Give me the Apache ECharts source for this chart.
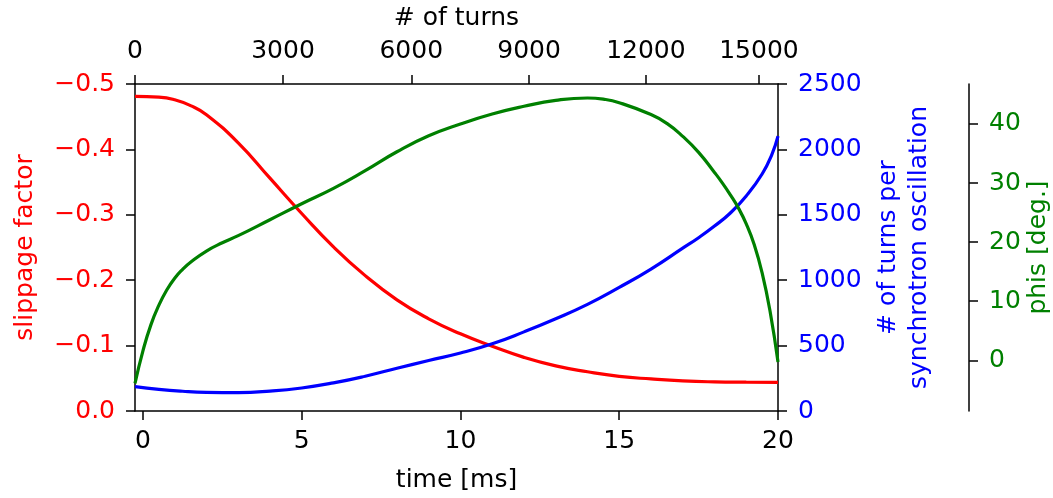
<!DOCTYPE html>
<html>
<head>
<meta charset="utf-8">
<script src="https://cdn.jsdelivr.net/npm/echarts@6/dist/echarts.min.js"></script>
<style>
  html, body { margin: 0; padding: 0; background: #fff; }
  #chart { width: 1053px; height: 498px; }
</style>
</head>
<body>
<div id="chart"></div>
<script>
// slippage factor (left axis, red)
const slipTime = [-0.25, 0.5, 1, 1.5, 2, 3, 4, 5, 6, 7, 8, 9, 10, 11, 12, 13, 14, 15, 16, 17, 18, 19, 20];
const slipValue = [-0.481, -0.480, -0.476, -0.467, -0.453, -0.410, -0.356, -0.302, -0.251, -0.207, -0.170, -0.141,
    -0.118, -0.099, -0.082, -0.069, -0.060, -0.053, -0.049, -0.046, -0.0445, -0.0440, -0.0438];

// # of turns per synchrotron oscillation (right axis, blue)
const syncTime = [-0.25, 0.5, 1.25, 2, 3, 4, 5, 6, 7, 8, 9, 10, 11, 12, 13, 14, 15, 16, 17, 17.5, 18, 18.5, 19, 19.5, 19.8, 20];
const syncValue = [186, 165, 151, 143, 141, 152, 176, 215, 266, 327, 386, 443, 514, 605, 705, 815, 945, 1085,
    1245, 1325, 1414, 1514, 1644, 1812, 1957, 2102];

// phis [deg.] (outer right axis, green)
const phisTime = [-0.25, 0, 0.25, 0.5, 0.75, 1, 1.25, 1.5, 2, 2.5, 3, 4, 5, 6, 7, 8, 9, 10, 11, 12, 13, 14, 14.5,
    15, 16, 16.5, 17, 17.5, 18, 18.25, 18.5, 18.75, 19, 19.25, 19.5, 19.75, 20];
const phisValue = [-3.9, 1.6, 6.0, 9.3, 11.9, 13.9, 15.4, 16.6, 18.5, 19.9, 21.1, 23.8, 26.5, 29.1, 32.1, 35.3,
    38.0, 40.0, 41.7, 43.0, 44.0, 44.4, 44.2, 43.6, 41.6, 40.1, 37.9, 35.2, 31.8, 30.0, 28.0, 25.8, 23.1, 19.6,
    14.8, 8.3, -0.3];

// tick labels
const timeTicks = [0, 5, 10, 15, 20];
const turnTicks = [0, 3000, 6000, 9000, 12000, 15000];
const turnTickTimes = [-0.25, 4.41, 8.45, 12.16, 15.84, 19.40];
const phisTicks = [0, 10, 20, 30, 40];

const zip = (a, b) => a.map((x, i) => [x, b[i]]);

const FONT = 'DejaVu Sans';
const FS = 25;

const baseAxis = {
    axisLine: { show: true, onZero: false, lineStyle: { color: '#000', width: 1.5 } },
    axisTick: { show: true, length: 9, lineStyle: { color: '#000', width: 1.5 } },
    splitLine: { show: false },
    nameTextStyle: { fontFamily: FONT, fontSize: FS, color: '#000' }
};

const chart = echarts.init(document.getElementById('chart'));
chart.setOption({
    backgroundColor: '#fff',
    animation: false,
    grid: { left: 135, right: 275, top: 84, bottom: 87, containLabel: false, outerBoundsMode: 'none' },
    xAxis: [{
        ...baseAxis,
        type: 'value',
        position: 'bottom',
        min: -0.25,
        max: 20,
        name: 'time [ms]',
        nameLocation: 'middle',
        nameGap: 57,
        axisTick: { ...baseAxis.axisTick, customValues: timeTicks },
        axisLabel: {
            customValues: timeTicks, margin: 18,
            fontFamily: FONT, fontSize: FS, color: '#000'
        }
    }, {
        ...baseAxis,
        type: 'value',
        position: 'top',
        min: -0.25,
        max: 20,
        name: '# of turns',
        nameLocation: 'middle',
        nameGap: 53,
        axisTick: { ...baseAxis.axisTick, customValues: turnTickTimes },
        axisLabel: {
            customValues: turnTickTimes, margin: 20,
            fontFamily: FONT, fontSize: FS, color: '#000',
            formatter: v => {
                const i = turnTickTimes.findIndex(t => Math.abs(t - v) < 1e-6);
                return i >= 0 ? String(turnTicks[i]) : '';
            }
        }
    }],
    yAxis: [{
        ...baseAxis,
        type: 'value',
        position: 'left',
        inverse: true,
        min: -0.5,
        max: 0,
        interval: 0.1,
        name: 'slippage factor',
        nameLocation: 'middle',
        nameRotate: 90,
        nameGap: 97,
        nameTextStyle: { fontFamily: FONT, fontSize: FS, color: '#ff0000' },
        axisLabel: {
            margin: 20, fontFamily: FONT, fontSize: FS, color: '#ff0000',
            formatter: v => Math.abs(v) < 1e-9 ? '0.0' : v.toFixed(1).replace('-', '\u2212')
        }
    }, {
        ...baseAxis,
        type: 'value',
        position: 'right',
        min: 0,
        max: 2500,
        interval: 500,
        name: '# of turns per\nsynchrotron oscillation',
        nameLocation: 'middle',
        nameRotate: 90,
        nameGap: 89,
        nameTextStyle: { fontFamily: FONT, fontSize: FS, color: '#0000ff', lineHeight: 31 },
        axisLabel: {
            margin: 20, fontFamily: FONT, fontSize: FS, color: '#0000ff',
            formatter: v => String(v)
        }
    }, {
        ...baseAxis,
        type: 'value',
        position: 'right',
        offset: 191,
        min: -8.58,
        max: 46.77,
        name: 'phis [deg.]',
        nameLocation: 'middle',
        nameRotate: 90,
        nameGap: 57,
        nameMoveOverlap: false,
        nameTextStyle: { fontFamily: FONT, fontSize: FS, color: '#008000' },
        axisTick: { ...baseAxis.axisTick, customValues: phisTicks },
        axisLabel: {
            customValues: phisTicks, margin: 20,
            fontFamily: FONT, fontSize: FS, color: '#008000',
            formatter: v => String(v)
        }
    }],
    series: [{
        name: 'slippage factor',
        type: 'line',
        xAxisIndex: 0,
        yAxisIndex: 0,
        data: zip(slipTime, slipValue),
        showSymbol: false,
        smooth: 0.5,
        lineStyle: { color: '#ff0000', width: 3.2 }
    }, {
        name: 'turns per synchrotron oscillation',
        type: 'line',
        xAxisIndex: 0,
        yAxisIndex: 1,
        data: zip(syncTime, syncValue),
        showSymbol: false,
        smooth: 0.5,
        lineStyle: { color: '#0000ff', width: 3.2 }
    }, {
        name: 'phis',
        type: 'line',
        xAxisIndex: 0,
        yAxisIndex: 2,
        data: zip(phisTime, phisValue),
        showSymbol: false,
        smooth: 0.5,
        lineStyle: { color: '#008000', width: 3.2 }
    }]
});
</script>
</body>
</html>
